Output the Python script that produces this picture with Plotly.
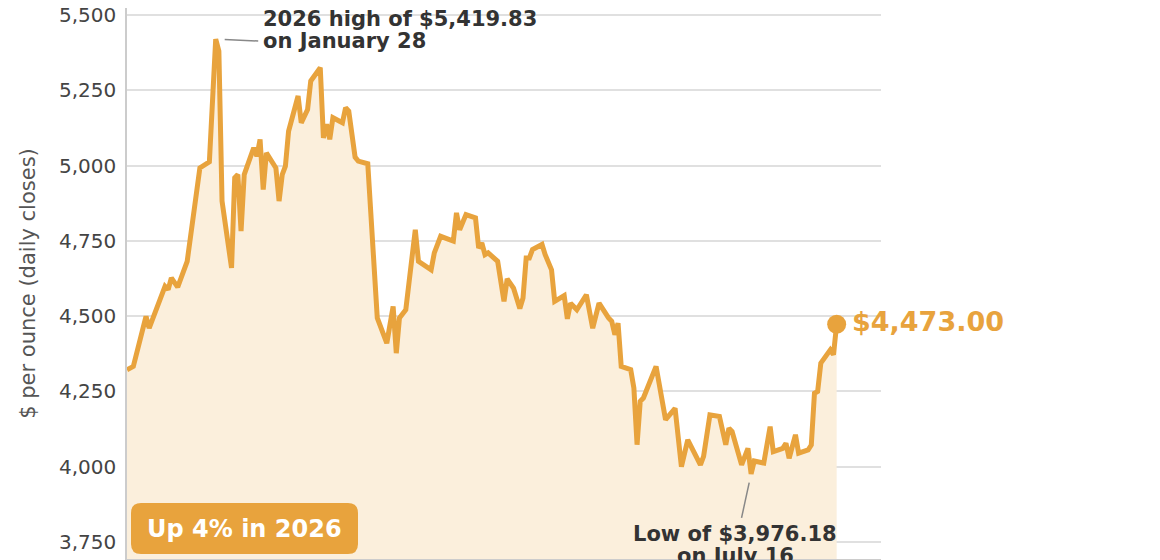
import plotly.graph_objects as go

# Daily closes (gold, $ per ounce)
dates = [
    "2025-12-31", "2026-01-02", "2026-01-06", "2026-01-07", "2026-01-12", "2026-01-13",
    "2026-01-14", "2026-01-16", "2026-01-19", "2026-01-23", "2026-01-26", "2026-01-28",
    "2026-01-29", "2026-01-30", "2026-02-02", "2026-02-03", "2026-02-04", "2026-02-05",
    "2026-02-06", "2026-02-09", "2026-02-10", "2026-02-11", "2026-02-12", "2026-02-13",
    "2026-02-16", "2026-02-17", "2026-02-18", "2026-02-19", "2026-02-20", "2026-02-23",
    "2026-02-24", "2026-02-26", "2026-02-27", "2026-03-02", "2026-03-03", "2026-03-04",
    "2026-03-05", "2026-03-06", "2026-03-09", "2026-03-10", "2026-03-11", "2026-03-13",
    "2026-03-14", "2026-03-17", "2026-03-20", "2026-03-23", "2026-03-25", "2026-03-26",
    "2026-03-27", "2026-03-29", "2026-04-01", "2026-04-02", "2026-04-06", "2026-04-07",
    "2026-04-09", "2026-04-13", "2026-04-14", "2026-04-15", "2026-04-17", "2026-04-20",
    "2026-04-21", "2026-04-22", "2026-04-23", "2026-04-24", "2026-04-27", "2026-04-29",
    "2026-04-30", "2026-05-02", "2026-05-04", "2026-05-05", "2026-05-06", "2026-05-07",
    "2026-05-08", "2026-05-11", "2026-05-12", "2026-05-14", "2026-05-15", "2026-05-18",
    "2026-05-19", "2026-05-20", "2026-05-22", "2026-05-25", "2026-05-27", "2026-05-29",
    "2026-06-01", "2026-06-02", "2026-06-03", "2026-06-04", "2026-06-05", "2026-06-08",
    "2026-06-09", "2026-06-10", "2026-06-11", "2026-06-12", "2026-06-16", "2026-06-19",
    "2026-06-22", "2026-06-24", "2026-06-26", "2026-06-30", "2026-07-01", "2026-07-03",
    "2026-07-06", "2026-07-08", "2026-07-09", "2026-07-10", "2026-07-13", "2026-07-15",
    "2026-07-16", "2026-07-17", "2026-07-20", "2026-07-22", "2026-07-23", "2026-07-26",
    "2026-07-27", "2026-07-28", "2026-07-30", "2026-07-31", "2026-08-03", "2026-08-04",
    "2026-08-05", "2026-08-06", "2026-08-07", "2026-08-09", "2026-08-10", "2026-08-11",
    "2026-08-12",
]
closes = [
    4322, 4333, 4499, 4460, 4599, 4588,
    4627, 4596, 4682, 4992, 5012, 5419.83,
    5380, 4882, 4660, 4959, 4970, 4782,
    4970, 5059, 5031, 5087, 4920, 5042,
    4992, 4882, 4970, 4998, 5114, 5231,
    5142, 5186, 5281, 5325, 5092, 5137,
    5087, 5159, 5142, 5192, 5181, 5028,
    5015, 5006, 4494, 4410, 4532, 4377,
    4494, 4521, 4787, 4682, 4654, 4710,
    4765, 4749, 4843, 4787, 4837, 4826,
    4726, 4743, 4704, 4710, 4682, 4549,
    4624, 4593, 4525, 4560, 4693, 4693,
    4721, 4738, 4704, 4654, 4549, 4568,
    4491, 4543, 4521, 4571, 4460, 4543,
    4494, 4483, 4438, 4477, 4333, 4322,
    4261, 4073, 4217, 4228, 4333, 4156,
    4194, 4000, 4089, 4006, 4034, 4172,
    4167, 4073, 4128, 4117, 4006, 4061,
    3976.18, 4019, 4012, 4133, 4050, 4061,
    4078, 4028, 4106, 4045, 4056, 4072,
    4244, 4250, 4344, 4377, 4388, 4372,
    4473.00,
]

y_ticks = [3750, 4000, 4250, 4500, 4750, 5000, 5250, 5500]

high_date, high_value = "2026-01-28", 5419.83
low_date, low_value = "2026-07-16", 3976.18

GOLD = "#E8A33D"
FILL = "#FBEFDC"
FONT = "DejaVu Sans"
NOTE = dict(family=FONT, size=21, color="#333")

fig = go.Figure()

fig.add_trace(go.Scatter(
    x=dates, y=closes,
    mode="lines",
    line=dict(color=GOLD, width=5),
    fill="tozeroy",
    fillcolor=FILL,
    hoverinfo="skip",
    showlegend=False,
))

# end-of-series dot
fig.add_trace(go.Scatter(
    x=[dates[-1]], y=[closes[-1]],
    mode="markers",
    marker=dict(color=GOLD, size=19),
    hoverinfo="skip",
    showlegend=False,
))


def note_line(x, y, text, xshift, yshift, xanchor):
    fig.add_annotation(x=x, y=y, text=f"<b>{text}</b>", showarrow=False,
                       xanchor=xanchor, yanchor="middle",
                       xshift=xshift, yshift=yshift, font=NOTE)


def leader(x, y, ax, ay, standoff):
    fig.add_annotation(x=x, y=y, text=" ", showarrow=True, arrowhead=0,
                       arrowwidth=1.5, arrowcolor="#888", ax=ax, ay=ay,
                       standoff=standoff, font=dict(size=1))


# high callout
note_line(high_date, high_value, f"2026 high of ${high_value:,.2f}", 45, 20, "left")
note_line(high_date, high_value, "on January 28", 45, -2, "left")
leader(high_date, high_value, 44, 2, 9)

# low callout
note_line(low_date, low_value, f"Low of ${low_value:,.2f}", -16, -60, "center")
note_line(low_date, low_value, "on July 16", -16, -82, "center")
leader(low_date, low_value, -10, 46, 9)

# last value label
fig.add_annotation(
    x=dates[-1], y=closes[-1],
    text=f"<b>${closes[-1]:,.2f}</b>",
    showarrow=False, xanchor="left", yanchor="middle", xshift=13, yshift=3,
    font=dict(family=FONT, size=27, color=GOLD),
)

# "Up 4% in 2026" badge (rounded box)
w, h, r, x0, y0 = 227, 51, 10, 4, 5
badge = (f"M {x0 + r},{y0} L {x0 + w - r},{y0} Q {x0 + w},{y0} {x0 + w},{y0 + r} "
         f"L {x0 + w},{y0 + h - r} Q {x0 + w},{y0 + h} {x0 + w - r},{y0 + h} "
         f"L {x0 + r},{y0 + h} Q {x0},{y0 + h} {x0},{y0 + h - r} "
         f"L {x0},{y0 + r} Q {x0},{y0} {x0 + r},{y0} Z")
fig.add_shape(
    type="path", path=badge,
    xref="paper", yref="paper", xsizemode="pixel", ysizemode="pixel",
    xanchor=0, yanchor=0,
    fillcolor=GOLD, line=dict(width=0), layer="above",
)
fig.add_annotation(
    xref="paper", yref="paper", x=0, y=0,
    xshift=x0 + w / 2, yshift=y0 + h / 2,
    xanchor="center", yanchor="middle",
    text="<b>Up 4% in 2026</b>", showarrow=False,
    font=dict(family=FONT, size=24, color="white"),
)

fig.update_layout(
    width=1160, height=560,
    margin=dict(l=119, r=287, t=0, b=9, autoexpand=False),
    paper_bgcolor="white", plot_bgcolor="white",
    font=dict(family=FONT, color="#444"),
    showlegend=False,
)
fig.update_xaxes(
    range=["2025-12-31", "2026-08-26"],
    showticklabels=False, showgrid=False, zeroline=False,
    showline=True, linecolor="#ccc", linewidth=1.5, automargin=False,
)
fig.update_yaxes(
    range=[3693.5, 5523.2],
    tickvals=y_ticks, tickformat=",",
    tickfont=dict(family=FONT, size=20, color="#444"),
    ticklabeloverflow="allow", automargin=False,
    gridcolor="#e0e0e0", gridwidth=1.5, zeroline=False,
    showline=True, linecolor="#ccc", linewidth=1.5,
    ticks="", ticklabelstandoff=5,
    title=dict(text="$ per ounce (daily closes)", standoff=18,
               font=dict(family=FONT, size=21, color="#555")),
)

fig.write_html("out.html")
